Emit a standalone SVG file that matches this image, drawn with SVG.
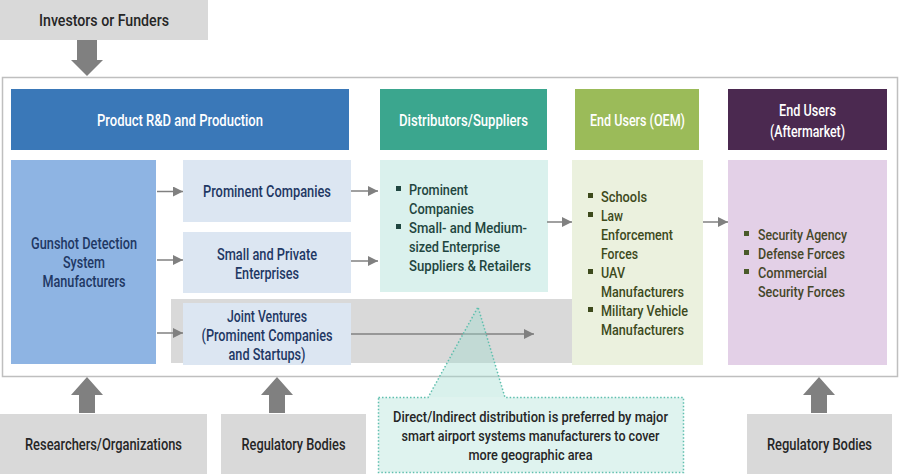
<svg xmlns="http://www.w3.org/2000/svg" width="900" height="474" viewBox="0 0 900 474">
<defs>
<style>
text{font-family:Roboto,"Liberation Sans",Arial,sans-serif;font-size:16px;font-weight:500}
.c{text-anchor:middle}
.w{fill:#ffffff}
.dk{fill:#262626}
.nv{fill:#1f3864}
.tl{fill:#1f4640;font-size:15px}
.ol{fill:#3d4a1c;font-size:15px}
.pu{fill:#45472a;font-size:15px}
.co{fill:#262626;font-size:15px}
.gray{fill:#d9d9d9}
.conn{stroke:#808080;stroke-width:1.5;fill:none}
.big{fill:#808080}
</style>
<marker id="ah" viewBox="0 0 10 10" refX="10" refY="5" markerWidth="10" markerHeight="10" markerUnits="userSpaceOnUse" orient="auto">
<path d="M0,0 L10,5 L0,10 Z" fill="#808080"/>
</marker>
</defs>
<rect width="900" height="474" fill="#ffffff"/>

<g id="frame"><rect x="2.5" y="77.5" width="895" height="299" fill="#ffffff" stroke="#bfbfbf" stroke-width="1.5"/></g>

<g id="investors"><rect x="0" y="0" width="208" height="40" class="gray"/>
<text x="104" y="26" class="c dk" textLength="130" lengthAdjust="spacingAndGlyphs">Investors or Funders</text></g>

<g id="header-rd"><rect x="11" y="89" width="338" height="61" fill="#3a78b8"/>
<text x="180" y="126" class="c w" textLength="166" lengthAdjust="spacingAndGlyphs">Product R&amp;D and Production</text></g>
<g id="header-dist"><rect x="380" y="89" width="167" height="61" fill="#3ba68e"/>
<text x="463.5" y="126" class="c w" textLength="129" lengthAdjust="spacingAndGlyphs">Distributors/Suppliers</text></g>
<g id="header-oem"><rect x="575" y="89" width="124" height="61" fill="#9bbb59"/>
<text x="637.5" y="126" class="c w" textLength="95" lengthAdjust="spacingAndGlyphs">End Users (OEM)</text></g>
<g id="header-after"><rect x="728" y="89" width="159" height="61" fill="#4b2950"/>
<text x="807.5" y="116" class="c w" textLength="57" lengthAdjust="spacingAndGlyphs">End Users</text>
<text x="807.5" y="137" class="c w" textLength="75" lengthAdjust="spacingAndGlyphs">(Aftermarket)</text></g>

<g id="band"><rect x="171" y="299" width="401" height="64" class="gray"/></g>

<g id="gunshot"><rect x="11" y="160" width="145" height="204" fill="#8eb4e3"/>
<text x="84" y="249" class="c nv" textLength="106" lengthAdjust="spacingAndGlyphs">Gunshot Detection</text>
<text x="84" y="268" class="c nv" textLength="42" lengthAdjust="spacingAndGlyphs">System</text>
<text x="84" y="287" class="c nv" textLength="83" lengthAdjust="spacingAndGlyphs">Manufacturers</text></g>

<g id="prominent"><rect x="183" y="160" width="168" height="62" fill="#dce6f2"/>
<text x="267" y="197" class="c nv" textLength="128" lengthAdjust="spacingAndGlyphs">Prominent Companies</text></g>
<g id="small"><rect x="183" y="232" width="168" height="61" fill="#dce6f2"/>
<text x="267" y="260" class="c nv" textLength="100" lengthAdjust="spacingAndGlyphs">Small and Private</text>
<text x="267" y="279" class="c nv" textLength="64" lengthAdjust="spacingAndGlyphs">Enterprises</text></g>
<g id="jv"><rect x="183" y="303" width="168" height="62" fill="#dce6f2"/>
<text x="267" y="322" class="c nv" textLength="80" lengthAdjust="spacingAndGlyphs">Joint Ventures</text>
<text x="267" y="341" class="c nv" textLength="131" lengthAdjust="spacingAndGlyphs">(Prominent Companies</text>
<text x="267" y="360" class="c nv" textLength="77" lengthAdjust="spacingAndGlyphs">and Startups)</text></g>

<g id="dist"><rect x="380" y="160" width="168" height="132" fill="#daf1ed"/>
<rect x="396" y="186" width="5" height="5" fill="#1f4640"/>
<rect x="396" y="224" width="5" height="5" fill="#1f4640"/>
<text x="409" y="195" class="tl" textLength="59" lengthAdjust="spacingAndGlyphs">Prominent</text>
<text x="409" y="214" class="tl" textLength="65" lengthAdjust="spacingAndGlyphs">Companies</text>
<text x="409" y="233" class="tl" textLength="118" lengthAdjust="spacingAndGlyphs">Small- and Medium-</text>
<text x="409" y="252" class="tl" textLength="91" lengthAdjust="spacingAndGlyphs">sized Enterprise</text>
<text x="409" y="271" class="tl" textLength="122" lengthAdjust="spacingAndGlyphs">Suppliers &amp; Retailers</text></g>

<g id="oem"><rect x="572" y="160" width="131" height="205" fill="#ebf1de"/>
<rect x="588" y="193" width="5" height="5" fill="#3d4a1c"/>
<rect x="588" y="212" width="5" height="5" fill="#3d4a1c"/>
<rect x="588" y="269" width="5" height="5" fill="#3d4a1c"/>
<rect x="588" y="307" width="5" height="5" fill="#3d4a1c"/>
<text x="601" y="202" class="ol" textLength="46" lengthAdjust="spacingAndGlyphs">Schools</text>
<text x="601" y="221" class="ol" textLength="22" lengthAdjust="spacingAndGlyphs">Law</text>
<text x="601" y="240" class="ol" textLength="72" lengthAdjust="spacingAndGlyphs">Enforcement</text>
<text x="601" y="259" class="ol" textLength="37" lengthAdjust="spacingAndGlyphs">Forces</text>
<text x="601" y="278" class="ol" textLength="24" lengthAdjust="spacingAndGlyphs">UAV</text>
<text x="601" y="297" class="ol" textLength="83" lengthAdjust="spacingAndGlyphs">Manufacturers</text>
<text x="601" y="316" class="ol" textLength="87" lengthAdjust="spacingAndGlyphs">Military Vehicle</text>
<text x="601" y="335" class="ol" textLength="83" lengthAdjust="spacingAndGlyphs">Manufacturers</text></g>

<g id="after"><rect x="728" y="160" width="159" height="205" fill="#e3d0e7"/>
<rect x="744" y="231" width="5" height="5" fill="#4a5a2a"/>
<rect x="744" y="250" width="5" height="5" fill="#4a5a2a"/>
<rect x="744" y="269" width="5" height="5" fill="#4a5a2a"/>
<text x="758" y="240" class="pu" textLength="89" lengthAdjust="spacingAndGlyphs">Security Agency</text>
<text x="758" y="259" class="pu" textLength="87" lengthAdjust="spacingAndGlyphs">Defense Forces</text>
<text x="758" y="278" class="pu" textLength="69" lengthAdjust="spacingAndGlyphs">Commercial</text>
<text x="758" y="297" class="pu" textLength="87" lengthAdjust="spacingAndGlyphs">Security Forces</text></g>

<g id="connectors">
<line x1="157" y1="191.5" x2="183" y2="191.5" class="conn" marker-end="url(#ah)"/>
<line x1="157" y1="260" x2="183" y2="260" class="conn" marker-end="url(#ah)"/>
<line x1="157" y1="333" x2="183" y2="333" class="conn" marker-end="url(#ah)"/>
<line x1="351" y1="191" x2="378" y2="191" class="conn" marker-end="url(#ah)"/>
<line x1="351" y1="261" x2="378" y2="261" class="conn" marker-end="url(#ah)"/>
<line x1="547" y1="222" x2="572" y2="222" class="conn" marker-end="url(#ah)"/>
<line x1="703" y1="222" x2="728" y2="222" class="conn" marker-end="url(#ah)"/>
<line x1="351" y1="334" x2="534" y2="334" class="conn" marker-end="url(#ah)"/>
<path class="big" d="M77,40 H97 V60 H103 L87,76 L71,60 H77 Z"/>
<path class="big" d="M79,413 V395 H71 L87,377 L103,395 H95 V413 Z"/>
<path class="big" d="M269,413 V395 H261 L277,377 L293,395 H285 V413 Z"/>
<path class="big" d="M811,413 V395 H803 L819,377 L835,395 H827 V413 Z"/>
</g>

<g id="researchers"><rect x="0" y="414" width="207" height="60" class="gray"/>
<text x="103.5" y="450" class="c dk" textLength="157" lengthAdjust="spacingAndGlyphs">Researchers/Organizations</text></g>
<g id="regulatory1"><rect x="221" y="414" width="145" height="60" class="gray"/>
<text x="293.5" y="450" class="c dk" textLength="104" lengthAdjust="spacingAndGlyphs">Regulatory Bodies</text></g>
<g id="regulatory2"><rect x="747" y="414" width="145" height="60" class="gray"/>
<text x="819.5" y="450" class="c dk" textLength="105" lengthAdjust="spacingAndGlyphs">Regulatory Bodies</text></g>

<g id="callout">
<rect x="378.5" y="397.5" width="305" height="75" fill="#dff3ef"/>
<path d="M428,397.5 L478,307 L505,397.5 Z" fill="#9fdccf" fill-opacity="0.4"/>
<path d="M378.5,397.5 H428 L478,307 L505,397.5 H683.5 V472.5 H378.5 Z" fill="none" stroke="#5fbfae" stroke-width="1.5" stroke-dasharray="1.5,2"/>
<text x="530.5" y="422" class="c co" textLength="275" lengthAdjust="spacingAndGlyphs">Direct/Indirect distribution is preferred by major</text>
<text x="530.5" y="441" class="c co" textLength="258" lengthAdjust="spacingAndGlyphs">smart airport systems manufacturers to cover</text>
<text x="530.5" y="460" class="c co" textLength="124" lengthAdjust="spacingAndGlyphs">more geographic area</text>
</g>
</svg>
